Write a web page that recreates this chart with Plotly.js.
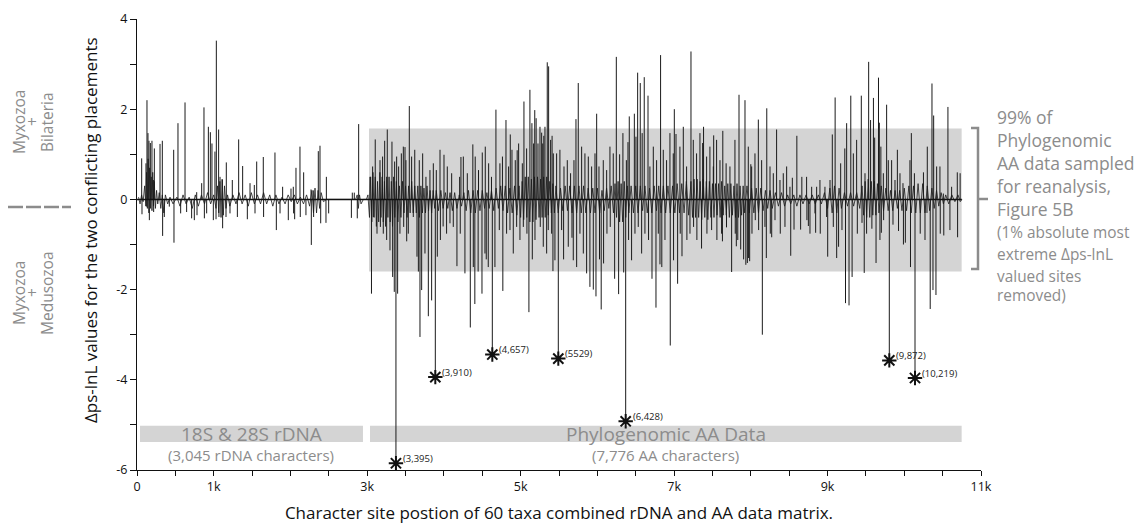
<!DOCTYPE html>
<html><head><meta charset="utf-8">
<script src="https://cdn.plot.ly/plotly-3.0.1.min.js"></script>
<style>html,body{margin:0;padding:0;background:#fff}#chart{width:1135px;height:531px}</style>
</head><body><div id="chart"></div>
<script>
// ---- data (site position, delta ps-lnL) ----
const rdnaSites = [61,65,117,126,130,143,156,161,174,195,213,217,226,300,330,334,356,421,478,482,534,569,626,647,712,747,778,782,843,873,878,908,930,956,977,995,1016,1030,1034,1064,1068,1082,1112,1116,1160,1164,1212,1242,1308,1325,1377,1438,1473,1529,1538,1560,1646,1650,1798,1816,1864,1898,1972,2007,2037,2041,2055,2072,2124,2128,2172,2202,2268,2272,2298,2302,2363,2385,2394,2463,2468,2498,2794,2806,2832,2871,2889];
const rdnaValues = [0.91,-0.33,0.8,-0.16,2.2,1.47,1.3,-0.46,1.25,1.3,0.43,-0.28,1.13,1.23,1.3,-0.81,-0.39,-0.16,1.1,-0.96,1.69,-0.31,2.15,-0.28,-0.42,-0.46,0.16,-0.35,0.36,2.04,-0.42,-0.31,1.61,1.49,1.24,-0.46,1.06,-0.44,3.52,1.55,-0.39,0.5,0.43,-0.64,-0.39,0.82,-0.31,0.43,-0.39,1.33,0.74,-0.44,0.36,0.32,-0.31,0.84,0.94,-0.39,1.04,-0.68,-0.31,0.28,-0.46,0.24,0.28,-0.31,-0.44,0.7,1.17,-0.39,0.6,-0.35,0.22,-1.01,0.2,-0.39,1.07,1.19,-0.53,-0.52,0.5,-0.31,-0.41,0.15,0.15,-0.42,1.67];

const aaSites = [3036,3056,3071,3080,3105,3128,3167,3172,3201,3210,3228,3254,3262,3297,3323,3332,3353,3358,3384,3397,3410,3427,3445,3471,3476,3493,3505,3515,3536,3549,3579,3601,3620,3649,3667,3679,3688,3710,3723,3753,3766,3797,3818,3840,3862,3901,3914,3949,3954,3990,4001,4035,4044,4079,4101,4122,4170,4205,4213,4222,4253,4274,4305,4344,4377,4383,4403,4408,4446,4451,4496,4500,4535,4539,4552,4578,4583,4620,4665,4678,4722,4730,4763,4768,4809,4817,4843,4861,4865,4887,4904,4930,4948,4955,4974,4991,5022,5035,5043,5078,5082,5108,5121,5147,5152,5169,5184,5187,5202,5226,5252,5256,5274,5288,5295,5302,5317,5339,5347,5360,5365,5391,5404,5410,5421,5426,5447,5469,5512,5534,5560,5565,5608,5621,5651,5669,5686,5695,5721,5730,5751,5773,5795,5817,5838,5860,5882,5903,5925,5947,5969,5982,5991,6021,6028,6050,6077,6081,6121,6125,6164,6168,6207,6225,6247,6277,6290,6333,6343,6378,6399,6407,6416,6446,6482,6490,6503,6525,6533,6559,6577,6584,6611,6620,6660,6667,6685,6712,6729,6764,6772,6794,6816,6824,6840,6859,6881,6902,6946,6950,6989,6993,7003,7025,7046,7076,7080,7103,7120,7163,7167,7207,7220,7250,7254,7293,7297,7337,7358,7372,7384,7424,7428,7467,7489,7511,7516,7554,7558,7598,7619,7630,7635,7678,7683,7728,7750,7793,7797,7811,7830,7846,7868,7906,7924,7935,7955,7967,7971,7985,8000,8011,8015,8054,8058,8098,8102,8141,8150,8184,8202,8208,8250,8254,8272,8293,8315,8336,8380,8384,8423,8445,8467,8510,8520,8541,8563,8600,8649,8665,8727,8731,8750,8771,8793,8836,8845,8858,8901,8905,8966,8988,9002,9032,9062,9075,9099,9119,9144,9171,9188,9225,9234,9249,9280,9303,9320,9336,9379,9388,9440,9449,9478,9488,9509,9536,9561,9578,9598,9614,9632,9664,9675,9683,9695,9701,9727,9731,9770,9792,9835,9853,9879,9910,9925,9944,9983,9989,10014,10074,10081,10092,10132,10208,10250,10270,10296,10300,10338,10361,10374,10383,10413,10422,10465,10469,10509,10515,10569,10595,10617,10691,10695,10728];
const aaValues = [0.5,-2.09,0.73,-0.39,1.33,-0.76,0.87,-0.61,0.95,-0.76,1.3,-0.9,1.55,-1.13,1.28,-1.72,-2.05,0.84,0.95,-2.09,0.73,-0.76,1.02,1.17,-0.61,1.16,0.87,-0.93,-0.76,2.07,0.95,-0.39,1.1,-1.27,-1.6,0.87,-3.05,-2.01,1.02,-1.2,0.5,-2.59,0.65,-2.24,0.8,0.65,-1.27,1.1,-0.9,-0.6,0.99,-0.76,0.73,-0.53,0.58,-0.61,-1.48,0.5,-0.76,0.94,0.95,-1.64,0.58,-2.84,1.22,-1.5,-2.32,0.95,-1.6,0.65,-2.09,1.04,-1.2,1.17,-1.33,-1.5,0.8,0.5,-1.5,1.99,-0.68,0.8,0.95,-2.03,1.76,-0.76,0.73,-0.68,1.44,1.1,-1.2,0.87,-0.61,1.09,1.24,-0.9,0.8,-0.61,2.17,1.13,-0.76,-2.5,2.43,1.69,-1.33,1.24,1.98,-0.9,1.8,1.24,1.61,-0.61,1.48,1.24,-1.05,1.41,1.61,-1.2,3.04,-0.68,2.95,1.32,-0.76,1.41,-1.59,1.02,-1.35,1.02,1.1,-0.68,-1.33,0.73,0.87,-1.05,0.58,-0.85,-1.35,0.87,1.78,-1.5,2.58,-0.76,1.17,-1.2,1.02,-1.64,0.95,-1.94,0.73,-2.0,1.02,-2.15,1.9,0.73,-1.33,-2.44,0.87,-1.42,0.65,-0.76,1.17,-0.61,1.02,-1.76,3.16,-2.1,1.0,1.47,-1.62,0.87,1.27,-0.9,1.84,-1.35,1.9,-0.76,1.39,2.81,-0.61,2.58,-1.2,1.47,2.71,-0.76,2.3,-0.9,0.73,-1.76,1.17,-2.4,0.87,-0.76,-1.44,3.2,-1.5,1.1,-0.9,0.87,1.47,-3.24,1.02,-1.35,2.0,1.45,-1.87,1.17,-0.76,-1.26,1.61,0.73,-0.9,-0.76,3.28,1.32,-0.61,1.02,-0.9,1.47,-1.09,1.25,1.61,0.95,-0.76,1.17,-0.68,0.73,1.42,1.32,-0.9,0.87,-0.76,-0.93,1.52,0.8,-0.62,0.73,-1.61,1.32,-0.76,-1.04,-0.9,2.32,-1.11,-1.33,2.2,-1.45,-1.41,1.17,-1.3,-1.37,0.78,0.73,-0.76,1.02,-0.46,1.77,-0.68,0.87,-3.0,-0.61,-1.3,2.02,0.73,-0.76,-0.84,0.58,-0.46,1.55,0.43,-0.76,0.58,-0.61,0.73,0.28,-1.25,0.48,-0.67,1.41,-0.67,0.5,0.5,-0.46,-0.59,-0.76,0.28,-0.31,-0.74,0.28,0.43,-0.76,0.28,-0.39,-1.27,0.43,1.44,-0.61,2.26,-1.3,-1.05,0.8,-0.68,1.13,-2.3,1.69,-2.35,2.3,-1.72,1.02,1.32,-0.76,2.3,-0.52,-1.63,0.58,-0.76,3.05,1.76,-0.65,2.25,1.37,-1.41,2.7,1.7,-0.9,1.17,-0.74,0.58,-0.46,2.1,0.87,0.87,-0.56,0.43,1.1,-0.7,0.58,0.36,-1.0,-0.96,0.87,-1.5,1.47,0.58,-0.76,0.6,-0.9,-0.3,1.17,-2.43,2.57,-2.01,1.86,-2.12,0.73,0.73,-0.76,0.13,-0.8,2.05,-0.68,0.28,0.6,-0.84,0.58];

// dense low-amplitude site values around the baseline
const minorSites = [20,40,60,80,100,115,125,135,145,155,165,175,185,195,205,215,225,240,255,270,290,310,330,350,370,400,430,470,520,560,600,640,680,720,760,800,840,880,920,960,1000,1030,1050,1065,1080,1095,1110,1125,1140,1160,1180,1210,1250,1290,1330,1370,1410,1450,1490,1530,1570,1610,1650,1690,1730,1770,1810,1850,1890,1930,1970,2010,2050,2090,2130,2170,2210,2250,2280,2300,2320,2340,2360,2380,2400,2430,2470,2850,2870,2885,2900,2920,2950,2990,
3010,3030,3045,3060,3075,3090,3105,3120,3135,3150,3165,3180,3195,3210,3225,3240,3255,3270,3285,3300,3315,3330,3345,3360,3380,3400,3420,3440,3460,3480,3500,3520,3540,3560,3580,3600,3620,3640,3660,3680,3700,3720,3740,3760,3780,3800,3820,3840,3860,3880,3900,3930,3960,3990,4020,4050,4080,4110,4140,4170,4200,4230,4260,4290,4320,4350,4380,4410,4440,4470,4500,4530,4560,4590,4620,4650,4680,4710,4740,4770,4800,4830,4860,4890,4920,4950,4980,5000,5020,5040,5060,5080,5100,5120,5140,5160,5180,5200,5220,5240,5260,5280,5300,5320,5340,5360,5380,5400,5420,5440,5460,5490,5520,5550,5580,5610,5640,5670,5700,5730,5760,5790,5820,5850,5880,5910,5940,5970,6000,6030,6060,6090,6120,6150,6180,6210,6230,6250,6270,6290,6310,6330,6350,6370,6390,6410,6440,6470,6500,6530,6560,6590,6620,6650,6680,6710,6740,6770,6800,6830,6860,6890,6920,6950,6980,7010,7040,7070,7100,7130,7160,7190,7220,7240,7260,7280,7300,7320,7340,7360,7380,7400,7420,7440,7460,7480,7500,7520,7540,7560,7580,7600,7620,7640,7660,7680,7700,7720,7740,7760,7780,7800,7820,7840,7860,7880,7900,7920,7950,7980,8010,8040,8070,8100,8130,8160,8190,8220,8250,8280,8320,8360,8400,8440,8480,8520,8560,8600,8640,8680,8720,8760,8800,8840,8880,8920,8960,9000,9030,9060,9090,9120,9150,9180,9220,9260,9300,9340,9380,9420,9450,9470,9490,9510,9530,9550,9570,9590,9610,9630,9650,9670,9700,9730,9760,9790,9820,9850,9880,9910,9940,9970,10000,10030,10060,10090,10120,10150,10180,10210,10240,10270,10300,10330,10360,10390,10420,10450,10480,10510,10540,10580,10620,10660,10700,10730,10750];
const minorValues = [0.05,-0.1,0.1,-0.05,0.3,-0.15,0.6,-0.2,0.9,-0.3,0.7,-0.2,0.5,-0.25,0.6,-0.15,0.4,-0.2,0.2,-0.1,0.15,-0.2,0.1,-0.3,0.1,-0.1,0.05,-0.1,0.05,-0.15,0.1,-0.1,0.05,-0.2,0.1,-0.15,0.1,-0.1,0.15,-0.1,0.1,-0.2,0.3,-0.3,0.4,-0.4,0.45,-0.35,0.3,-0.2,0.1,-0.15,0.1,-0.1,0.15,-0.1,0.1,-0.15,0.15,-0.1,0.1,-0.1,0.15,-0.1,0.1,-0.15,0.1,-0.1,0.05,-0.1,0.1,-0.05,0.1,-0.1,0.05,-0.1,0.1,-0.15,0.2,-0.3,0.25,-0.3,0.2,-0.2,0.15,-0.05,0,0,0.1,-0.2,0.1,-0.1,0,0,
0.1,-0.4,0.5,-0.5,0.6,-0.4,0.5,-0.6,0.4,-0.5,0.6,-0.4,0.5,-0.5,0.4,-0.6,0.5,-0.4,0.5,-0.5,0.4,-0.6,0.5,-0.4,0.4,-0.5,0.3,-0.4,0.4,-0.3,0.3,-0.4,0.3,-0.3,0.4,-0.3,0.3,-0.3,0.3,-0.4,0.3,-0.3,0.25,-0.3,0.3,-0.25,0.2,-0.3,0.2,-0.2,0.2,-0.25,0.2,-0.2,0.15,-0.2,0.15,-0.25,0.15,-0.2,0.1,-0.15,0.15,-0.25,0.2,-0.3,0.2,-0.3,0.2,-0.25,0.2,-0.2,0.15,-0.2,0.2,-0.25,0.25,-0.2,0.3,-0.25,0.3,-0.3,0.25,-0.3,0.3,-0.35,0.3,-0.4,0.4,-0.45,0.5,-0.4,0.5,-0.5,0.45,-0.5,0.5,-0.45,0.5,-0.4,0.45,-0.4,0.5,-0.4,0.5,-0.35,0.4,-0.3,0.35,-0.3,0.3,-0.3,0.25,-0.25,0.3,-0.25,0.3,-0.3,0.3,-0.3,0.3,-0.3,0.3,-0.3,0.25,-0.3,0.25,-0.3,0.25,-0.3,0.2,-0.25,0.25,-0.2,0.3,-0.3,0.35,-0.4,0.4,-0.5,0.35,-0.5,0.4,-0.4,0.3,-0.3,0.3,-0.3,0.3,-0.3,0.3,-0.25,0.3,-0.3,0.25,-0.3,0.3,-0.25,0.3,-0.3,0.3,-0.3,0.3,-0.3,0.3,-0.3,0.35,-0.3,0.35,-0.3,0.4,-0.35,0.4,-0.4,0.45,-0.4,0.45,-0.4,0.4,-0.45,0.45,-0.4,0.4,-0.45,0.4,-0.4,0.35,-0.4,0.35,-0.35,0.35,-0.4,0.4,-0.35,0.3,-0.35,0.35,-0.4,0.35,-0.35,0.3,-0.4,0.35,-0.4,0.3,-0.35,0.3,-0.3,0.3,-0.3,0.25,-0.3,0.25,-0.3,0.25,-0.25,0.2,-0.2,0.2,-0.2,0.15,-0.15,0.15,-0.15,0.1,-0.1,0.1,-0.15,0.1,-0.1,0.1,-0.1,0.1,-0.1,0.1,-0.1,0.15,-0.2,0.25,-0.3,0.3,-0.3,0.25,-0.2,0.15,-0.15,0.15,-0.15,0.15,-0.2,0.3,-0.35,0.4,-0.4,0.45,-0.4,0.4,-0.35,0.4,-0.35,0.35,-0.3,0.3,-0.25,0.25,-0.25,0.2,-0.25,0.2,-0.2,0.2,-0.25,0.25,-0.25,0.3,-0.3,0.3,-0.3,0.35,-0.3,0.35,-0.3,0.3,-0.25,0.25,-0.2,0.2,-0.15,0.15,-0.1,0.1,-0.1,0.1,-0.05,0.1,-0.05,0];

// sites removed as the 1% most extreme values (asterisked)
const starSites  = [3375,3888,4631,5491,6369,9805,10140];
const starValues = [-5.85,-3.94,-3.44,-3.53,-4.92,-3.57,-3.96];
const starLabels = ['(3,395)','(3,910)','(4,657)','(5529)','(6,428)','(9,872)','(10,219)'];

// partitions of the combined matrix
const partitionNames = ['18S & 28S rDNA','Phylogenomic AA Data'];
const partitionNotes = ['(3,045 rDNA characters)','(7,776 AA characters)'];
const partitionStart = [39,3037];
const partitionEnd   = [2945,10748];
const sampledRange = {x0:3024, x1:10748, y0:-1.6, y1:1.57};

const xTickVals = [0,500,1000,1500,2000,2500,3000,3500,4000,4500,5000,5500,6000,6500,7000,7500,8000,8500,9000,9500,10000,10500,11000];
const xTickText = ['0','','1k','','','','3k','','','','5k','','','','7k','','','','9k','','','','11k'];
const yTickVals = [-6,-5,-4,-3,-2,-1,0,1,2,3,4];
const yTickText = ['-6','','-4','','-2','','0','','2','','4'];

const topLabels = ['Myxozoa','+','Bilateria'];
const bottomLabels = ['Myxozoa','+','Medusozoa'];
const noteLines = ['99% of','Phylogenomic','AA data sampled','for reanalysis,','Figure 5B','(1% absolute most','extreme Δps-lnL','valued sites','removed)'];

// ---- build ----
function spikes(xs, ys){
  const X=[],Y=[];
  xs.forEach((x,i)=>{X.push(x,x,null);Y.push(0,ys[i],null);});
  return {X,Y};
}
const W=1135,H=531,L=137,R=154,T=19,B=61;
const pw=W-L-R, ph=H-T-B;
const px=p=>(p-L)/pw, py=p=>(H-B-p)/ph;
const FONT='Open Sans, Noto Sans, sans-serif';
const GRAY='#8c8c8c';

const sR=spikes(rdnaSites,rdnaValues), sA=spikes(aaSites,aaValues), sS=spikes(starSites,starValues);
const allSites=rdnaSites.concat(aaSites,minorSites);

const traces=[
  {x:minorSites,y:minorValues,mode:'lines',line:{color:'#1a1a1a',width:0.8},hoverinfo:'skip'},
  {x:sR.X,y:sR.Y,mode:'lines',line:{color:'#1a1a1a',width:1},connectgaps:false,hoverinfo:'skip'},
  {x:sA.X,y:sA.Y,mode:'lines',line:{color:'#1a1a1a',width:1},connectgaps:false,hoverinfo:'skip'},
  {x:sS.X,y:sS.Y,mode:'lines',line:{color:'#1a1a1a',width:1},connectgaps:false,hoverinfo:'skip'},
  {x:starSites,y:starValues,mode:'markers',marker:{symbol:'asterisk-open',size:12,color:'#111',line:{color:'#111',width:2}},hoverinfo:'skip'}
];

const shapes=[
  {type:'rect',xref:'x',yref:'y',x0:sampledRange.x0,x1:sampledRange.x1,y0:sampledRange.y0,y1:sampledRange.y1,fillcolor:'#d4d4d4',line:{width:0},layer:'below'},
  {type:'line',xref:'x',yref:'y',x0:0,x1:Math.max(...allSites),y0:0,y1:0,line:{color:'#111',width:1.5}},
  {type:'line',xref:'paper',yref:'paper',x0:px(8),x1:px(71),y0:py(207),y1:py(207),line:{color:GRAY,width:2.5,dash:'15px,3px'}},
  {type:'path',xref:'paper',yref:'paper',path:`M ${px(971)},${py(128)} L ${px(978)},${py(128)} L ${px(978)},${py(269)} L ${px(971)},${py(269)}`,line:{color:GRAY,width:2.5}},
  {type:'line',xref:'paper',yref:'paper',x0:px(978),x1:px(988),y0:py(199),y1:py(199),line:{color:GRAY,width:2.5}}
];
partitionStart.forEach((s,i)=>{
  shapes.push({type:'rect',xref:'x',yref:'y',x0:s,x1:partitionEnd[i],y0:-5.38,y1:-5.02,fillcolor:'#d4d4d4',line:{width:0},layer:'below'});
});

const ann=[];
partitionStart.forEach((s,i)=>{
  const c=(s+partitionEnd[i])/2;
  ann.push({xref:'x',yref:'y',x:c,y:-5.21,text:partitionNames[i],showarrow:false,borderpad:0,font:{family:FONT,size:19,color:GRAY},yanchor:'middle'});
  ann.push({xref:'x',yref:'y',x:c,y:-5.67,text:partitionNotes[i],showarrow:false,borderpad:0,font:{family:FONT,size:15,color:GRAY},yanchor:'middle'});
});
starSites.forEach((s,i)=>{
  ann.push({xref:'x',yref:'y',x:s,y:starValues[i],text:starLabels[i],showarrow:false,borderpad:0,xanchor:'left',yanchor:'middle',xshift:6,yshift:5,font:{family:FONT,size:9.5,color:'#222'}});
});
// y-axis title
ann.push({xref:'paper',yref:'paper',x:px(90),y:py(230),text:'Δps-lnL values for the two conflicting placements',textangle:-90,showarrow:false,xanchor:'center',yanchor:'middle',font:{family:FONT,size:17,color:'#111'}});
// left side topology labels (columns at 19, 32, 47 px)
const labCols=[19,32,47];
topLabels.forEach((t,i)=>ann.push({xref:'paper',yref:'paper',x:px(labCols[i]),y:py(122),text:t,textangle:-90,showarrow:false,xanchor:'center',yanchor:'middle',font:{family:FONT,size:15.5,color:GRAY}}));
bottomLabels.forEach((t,i)=>ann.push({xref:'paper',yref:'paper',x:px(labCols[i]),y:py(293),text:t,textangle:-90,showarrow:false,xanchor:'center',yanchor:'middle',font:{family:FONT,size:15.5,color:GRAY}}));
// right note
const noteY=[117,140,163,186,209,232,255,276,295];
noteLines.forEach((t,i)=>ann.push({xref:'paper',yref:'paper',x:px(995),y:py(noteY[i]),text:t,showarrow:false,xanchor:'left',yanchor:'middle',font:{family:FONT,size:i<5?17.5:15.4,color:GRAY}}));

const layout={
  width:W,height:H,margin:{l:L,r:R,t:T,b:B},
  paper_bgcolor:'#fff',plot_bgcolor:'#fff',showlegend:false,
  font:{family:FONT,size:12,color:'#111'},
  xaxis:{range:[0,11000],tickmode:'array',tickvals:xTickVals,ticktext:xTickText,ticks:'outside',ticklen:5,tickcolor:'#111',showline:true,linecolor:'#111',linewidth:1,showgrid:false,zeroline:false,tickfont:{size:12.5},
    title:{text:'Character site postion of 60 taxa combined rDNA and AA data matrix.',font:{size:17,color:'#111'},standoff:13}},
  yaxis:{range:[-6,4],tickmode:'array',tickvals:yTickVals,ticktext:yTickText,ticks:'outside',ticklen:6,tickcolor:'#111',showline:true,linecolor:'#111',linewidth:1,showgrid:false,zeroline:false,tickfont:{size:12.5}},
  shapes:shapes,annotations:ann
};
Plotly.newPlot('chart',traces,layout,{staticPlot:true,displayModeBar:false});
</script></body></html>
